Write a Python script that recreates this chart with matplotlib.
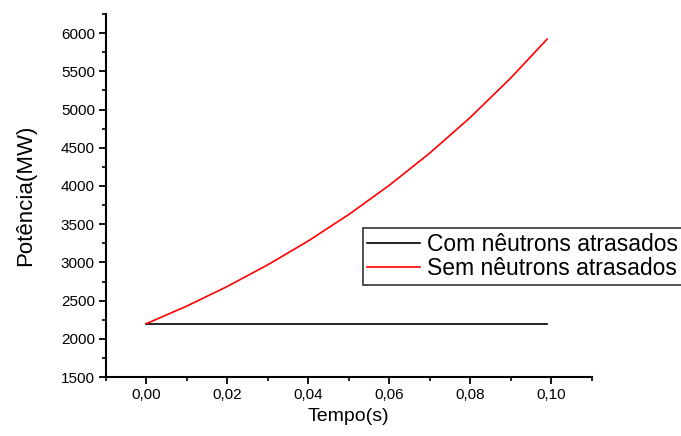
import matplotlib
matplotlib.use('Agg')
import matplotlib.pyplot as plt
from matplotlib.ticker import MultipleLocator, FuncFormatter

plt.rcParams['font.family'] = ['Liberation Sans', 'DejaVu Sans']

# time (s) and power (MW)
tempo = [0.0, 0.01, 0.02, 0.03, 0.04, 0.05, 0.06, 0.07, 0.08, 0.09, 0.099]
com_atrasados = [2200, 2200, 2200, 2200, 2200, 2200, 2200, 2200, 2200, 2200, 2200]
sem_atrasados = [2200, 2430, 2687, 2970, 3282, 3627, 4009, 4430, 4896, 5411, 5920]

fig = plt.figure(figsize=(6.81, 4.36), dpi=100)
ax = fig.add_axes([0.1557, 0.135, 0.713, 0.833])

ax.plot(tempo, com_atrasados, color='black', lw=1.2, label='Com nêutrons atrasados')
ax.plot(tempo, sem_atrasados, color='red', lw=1.2, label='Sem nêutrons atrasados')

ax.set_xlim(-0.01, 0.11)
ax.set_ylim(1500, 6250)
ax.xaxis.set_major_locator(MultipleLocator(0.02))
ax.xaxis.set_minor_locator(MultipleLocator(0.01))
ax.yaxis.set_major_locator(MultipleLocator(500))
ax.yaxis.set_minor_locator(MultipleLocator(250))
ax.xaxis.set_major_formatter(FuncFormatter(lambda v, p: f'{v:.2f}'.replace('.', ',')))

for s in ['top', 'right']:
    ax.spines[s].set_visible(False)
ax.spines['left'].set_linewidth(1.5)
ax.spines['bottom'].set_linewidth(1.5)
ax.tick_params(which='major', direction='out', length=5, width=1.3, labelsize=11, pad=3)
ax.tick_params(which='minor', direction='out', length=3, width=1.2)

ax.set_xlabel('Tempo(s)', fontsize=14, labelpad=4)
ax.set_ylabel('Potência(MW)', fontsize=16, labelpad=18)

leg = ax.legend(loc='upper left', bbox_to_anchor=(0.529, 0.41), fontsize=16.5,
                frameon=True, fancybox=False, edgecolor='black', borderpad=0.2,
                handlelength=2.3, handletextpad=0.3, labelspacing=0.05,
                borderaxespad=0)
leg.get_frame().set_linewidth(1.2)

fig.savefig('out.png', dpi=100)
